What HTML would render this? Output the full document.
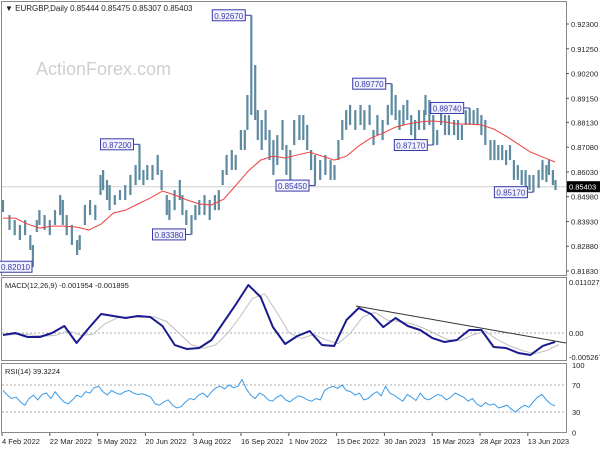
<!DOCTYPE html>
<html><head><meta charset="utf-8"><style>
body{margin:0;background:#fff;}
svg{display:block;font-family:"Liberation Sans",sans-serif;}
</style></head><body>
<svg id="c" width="600" height="450" viewBox="0 0 600 450">
<rect x="0" y="0" width="600" height="450" fill="#fff"/>
<text x="36" y="75" font-size="18" fill="#cfcfcf">ActionForex.com</text>
<g id="frames" fill="none" stroke="#888" stroke-width="1">
<rect x="1.5" y="1.5" width="565" height="274"/>
<rect x="1.5" y="277.5" width="565" height="83"/>
<rect x="1.5" y="363.5" width="565" height="69"/>
</g>
<g id="grid"></g><g id="marks"></g><g id="labels"></g>
<text x="5" y="11" font-size="8" fill="#222">▼ EURGBP,Daily  0.85444 0.85475 0.85307 0.85403</text>
<text x="5" y="288" font-size="7.5" fill="#222">MACD(12,26,9) -0.001954 -0.001895</text>
<text x="5" y="374" font-size="7.5" fill="#222">RSI(14) 39.3224</text>
</svg>
<script>
const days=[0,5,9,13,17,21,23,26,28,32,36,40,44,46,49,53,57,59,63,67,71,75,77,80,82,86,90,94,98,102,105,108,111,115,119,122,126,128,132,136,138,141,145,148,151,155,159,163,166,169,172,176,179,183,186,188,191,194,196,199,202,205,208,211,215,218,221,224,228,231,234,237,240,244,248,252,255,258,261,264,267,271,275,278,282,285,288,292,296,299,302,305,308,311,314,317,320,324,325,328,331,334,337,340,343,347,350,353,356,359,362,365,368,371,375,378,381,384,387,390,393,396,399,402,405,408,412,415,418,420,423,425];
const highs=[0.8484,0.8420,0.8399,0.8378,0.8399,0.8335,0.8293,0.8399,0.8441,0.8420,0.8399,0.8441,0.8505,0.8484,0.8420,0.8378,0.8314,0.8335,0.8463,0.8484,0.8463,0.8590,0.8611,0.8569,0.8547,0.8505,0.8526,0.8547,0.8590,0.8632,0.8720,0.8611,0.8632,0.8632,0.8675,0.8611,0.8505,0.8484,0.8526,0.8569,0.8505,0.8441,0.8420,0.8463,0.8484,0.8505,0.8484,0.8505,0.8526,0.8611,0.8675,0.8696,0.8675,0.8781,0.8781,0.8929,0.9267,0.9056,0.8865,0.8823,0.8865,0.8781,0.8738,0.8759,0.8823,0.8717,0.8696,0.8823,0.8844,0.8844,0.8802,0.8696,0.8675,0.8653,0.8675,0.8653,0.8632,0.8738,0.8823,0.8865,0.8887,0.8865,0.8887,0.8865,0.8887,0.8781,0.8844,0.8823,0.8887,0.8977,0.8929,0.8865,0.8887,0.8908,0.8844,0.8823,0.8865,0.8865,0.8929,0.8908,0.8844,0.8781,0.8865,0.8844,0.8844,0.8823,0.8823,0.8802,0.8865,0.8874,0.8865,0.8874,0.8844,0.8823,0.8738,0.8738,0.8717,0.8717,0.8696,0.8717,0.8653,0.8632,0.8611,0.8611,0.8590,0.8590,0.8611,0.8653,0.8632,0.8653,0.8611,0.8569];
const lows=[0.8433,0.8357,0.8335,0.8314,0.8335,0.8272,0.8201,0.8348,0.8378,0.8357,0.8335,0.8378,0.8420,0.8378,0.8335,0.8293,0.8251,0.8272,0.8378,0.8420,0.8399,0.8505,0.8526,0.8484,0.8441,0.8463,0.8484,0.8484,0.8505,0.8547,0.8569,0.8547,0.8569,0.8569,0.8590,0.8526,0.8420,0.8399,0.8441,0.8484,0.8420,0.8378,0.8338,0.8399,0.8420,0.8420,0.8399,0.8441,0.8441,0.8547,0.8590,0.8611,0.8611,0.8696,0.8696,0.8781,0.8844,0.8823,0.8738,0.8696,0.8738,0.8653,0.8590,0.8632,0.8696,0.8590,0.8569,0.8717,0.8738,0.8738,0.8696,0.8611,0.8545,0.8569,0.8590,0.8569,0.8569,0.8653,0.8738,0.8781,0.8802,0.8781,0.8802,0.8781,0.8802,0.8717,0.8759,0.8738,0.8802,0.8844,0.8823,0.8781,0.8802,0.8823,0.8759,0.8738,0.8781,0.8781,0.8844,0.8802,0.8717,0.8717,0.8802,0.8759,0.8759,0.8759,0.8738,0.8738,0.8802,0.8802,0.8802,0.8802,0.8759,0.8717,0.8653,0.8653,0.8653,0.8653,0.8632,0.8653,0.8569,0.8569,0.8547,0.8535,0.8526,0.8517,0.8535,0.8569,0.8560,0.8590,0.8547,0.8526];
const ma50=[0.8407,0.8407,0.8382,0.8365,0.8373,0.8373,0.8369,0.8357,0.8382,0.8429,0.8441,0.8467,0.8492,0.8522,0.8505,0.8484,0.8467,0.8463,0.8488,0.8547,0.8607,0.8653,0.8670,0.8662,0.8675,0.8687,0.8670,0.8653,0.8670,0.8713,0.8747,0.8768,0.8793,0.8806,0.8815,0.8819,0.8815,0.8806,0.8806,0.8802,0.8785,0.8755,0.8721,0.8687,0.8666,0.8645];
const macdMilli=[-0.43,0,-0.87,-0.87,0,1.52,-2.17,1.09,4.13,3.69,3.26,3.69,3.48,1.52,-2.61,-3.48,-3.26,-1.52,2.39,6.30,10.43,7.82,1.30,-2.39,-0.65,0.43,-2.61,-2.82,2.82,5.43,4.13,1.30,3.26,1.52,0.65,-1.09,-1.96,-1.52,0.65,0.65,-3.04,-3.26,-4.34,-4.78,-2.82,-1.95];
const signalMilli=[-0.5,-0.2,-0.4,-0.7,-0.5,0.5,-0.5,-0.3,2.0,3.3,3.5,3.4,3.5,2.5,0,-2.5,-3.3,-2.6,0,3.5,7.5,8.5,4.5,0,-1.2,-0.3,-1.5,-2.3,0,3.5,4.5,2.8,2.5,2.0,1.0,-0.3,-1.5,-1.6,-0.4,0.4,-1.5,-2.8,-3.8,-4.5,-3.8,-2.5];
const rsi=[62,55,50,52,45,40,50,55,48,56,58,50,60,52,45,42,48,55,52,60,58,66,68,60,55,62,58,56,60,62,58,56,57,55,52,42,40,45,48,40,36,38,45,50,48,55,58,52,60,66,68,64,70,66,68,78,64,55,50,58,55,48,46,52,55,48,45,50,54,52,48,46,50,48,62,66,68,65,70,62,60,55,58,48,50,56,60,54,68,58,55,50,46,56,52,47,58,50,48,52,56,54,48,52,58,55,52,46,50,42,38,44,40,42,36,38,40,34,30,36,40,37,45,52,56,48,42,39];
const priceTicks=[0.92300,0.91250,0.90200,0.89150,0.88130,0.87080,0.86030,0.84980,0.83930,0.82880,0.81830];
const dateLabels=["4 Feb 2022","22 Mar 2022","5 May 2022","20 Jun 2022","3 Aug 2022","16 Sep 2022","1 Nov 2022","15 Dec 2022","30 Jan 2023","15 Mar 2023","28 Apr 2023","13 Jun 2023"];
const peakLabels=[["0.92670",56],["0.87200",30],["0.83380",42],["0.82010",6],["0.85450",72],["0.89770",89],["0.87170",100],["0.88740",109],["0.85170",125]];
const lastPrice=0.85403;
const macdTicks=["0.011027","0.00","-0.005267"], macdTickVals=[11.027,0,-5.267];
const rsiTicks=[100,70,30,0];

const NS="http://www.w3.org/2000/svg";
function el(t,a,p){const e=document.createElementNS(NS,t);for(const k in a)e.setAttribute(k,a[k]);document.getElementById(p).appendChild(e);return e;}
const yP=v=>24+(0.923-v)*2359;
const yM=m=>333-m*4.603;
const yR=v=>412-(v-30)*0.675;
const X0=3,X1=555;
const xI=(i,n)=>X0+i*(X1-X0)/(n-1);
const xD=d=>3+d*1.3;

priceTicks.forEach(v=>{const y=yP(v);
 const t=el('line',{x1:566,x2:569,y1:y,y2:y,stroke:'#555'},'labels');
 
 const s=el('text',{x:571,y:y+3,'font-size':7.5,fill:'#222'},'labels');s.textContent=v.toFixed(5);
 });
const lp=el('line',{x1:2,x2:566,y1:yP(lastPrice),y2:yP(lastPrice),stroke:'#d0d0d0'},'grid');

const lb=el('rect',{x:567,y:yP(lastPrice)-5.5,width:33,height:11,fill:'#000'},'labels');

const lt=el('text',{x:569,y:yP(lastPrice)+3,'font-size':7.5,fill:'#fff'},'labels');lt.textContent=lastPrice.toFixed(5);

highs.forEach((h,i)=>{const x=xD(days[i]);
 const b=el('line',{x1:x,x2:x,y1:yP(h),y2:yP(lows[i]),stroke:'#5e8aa0','stroke-width':2.2},'marks');
 });
const maPts=ma50.map((v,i)=>xI(i,ma50.length)+','+yP(v)).join(' ');
const ma=el('polyline',{points:maPts,fill:'none',stroke:'#f04040','stroke-width':1},'marks');

peakLabels.forEach(([txt,i])=>{const bx=xD(days[i]);const v=parseFloat(txt);const y=yP(v);
 const w=33,h=11;let lx=Math.max(-1,bx-6-w),ly=y-h/2;
 const ln=el('polyline',{points:(lx+w)+','+y+' '+bx+','+y,fill:'none',stroke:'#3a3aa8','stroke-width':1},'labels');
 
 const r=el('rect',{x:lx,y:ly,width:w,height:h,fill:'#f2f2ff',stroke:'#3a3aa8','stroke-width':1},'labels');
 
 const t=el('text',{x:lx+2,y:y+3.5,'font-size':8,fill:'#3a3aa8'},'labels');t.textContent=txt;
 });
const z=el('line',{x1:2,x2:566,y1:yM(0),y2:yM(0),stroke:'#aaa','stroke-dasharray':'2,2'},'grid');

const n=macdMilli.length;
const sg=el('polyline',{points:signalMilli.map((v,i)=>(xI(i,n)+4)+','+yM(v)).join(' '),fill:'none',stroke:'#c0c0c0','stroke-width':1},'marks');

const mc=el('polyline',{points:macdMilli.map((v,i)=>xI(i,n)+','+yM(v)).join(' '),fill:'none',stroke:'#1a1a90','stroke-width':2,'stroke-linejoin':'round'},'marks');

const tl=el('line',{x1:356,y1:306,x2:566,y2:343,stroke:'#333','stroke-width':1},'marks');

macdTicks.forEach((s,i)=>{const t=el('text',{x:569,y:yM(macdTickVals[i])+3,'font-size':7.5,fill:'#222'},'labels');t.textContent=s;
 });
[70,30].forEach(v=>{const g=el('line',{x1:2,x2:566,y1:yR(v),y2:yR(v),stroke:'#aaa','stroke-dasharray':'2,2'},'grid');
 });
const rl=el('polyline',{points:rsi.map((v,i)=>xI(i,rsi.length)+','+yR(v)).join(' '),fill:'none',stroke:'#3a9be8','stroke-width':1},'marks');

rsiTicks.forEach(v=>{const t=el('text',{x:572,y:yR(v)+3,'font-size':7.5,fill:'#222'},'labels');t.textContent=v;
 });
dateLabels.forEach((d,i)=>{const x=2+i*47.8;
 const tk=el('line',{x1:x,x2:x,y1:433,y2:436,stroke:'#555'},'labels');
 
 const t=el('text',{x:x,y:444,'font-size':7.5,fill:'#222'},'labels');t.textContent=d;
 });
</script>
</body></html>
